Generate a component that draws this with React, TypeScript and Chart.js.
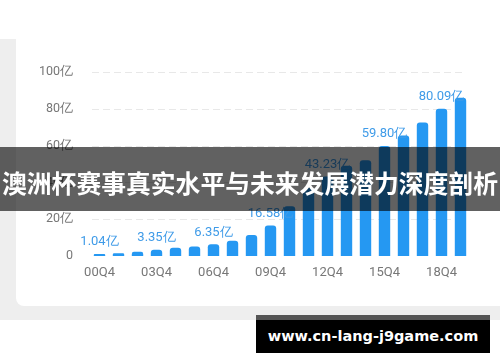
import React, { useEffect, useRef } from "react";
import { Chart, registerables } from "chart.js";

Chart.register(...registerables);

const categories = [
  "00Q4", "01Q4", "02Q4", "03Q4", "04Q4", "05Q4", "06Q4", "07Q4", "08Q4", "09Q4",
  "10Q4", "11Q4", "12Q4", "13Q4", "14Q4", "15Q4", "16Q4", "17Q4", "18Q4", "19Q4",
];
const values = [
  1.04, 1.5, 2.3, 3.35, 4.5, 5.1, 6.35, 8.3, 11.4, 16.58,
  27, 37, 43.23, 49, 52, 59.8, 65.5, 72.5, 80.09, 86,
];
const labeledCategories = ["00Q4", "03Q4", "06Q4", "09Q4", "12Q4", "15Q4", "18Q4"];
const shownXTicks = ["00Q4", "03Q4", "06Q4", "09Q4", "12Q4", "15Q4", "18Q4"];
const yTickValues = [0, 20, 40, 60, 80, 100];
const yTickLabels = ["0", "20亿", "40亿", "60亿", "80亿", "100亿"];
const unit = "亿";
const title = "澳洲杯赛事真实水平与未来发展潜力深度剖析";
const watermark = "www.cn-lang-j9game.com";

const dashedGridPlugin = {
  id: "dashedGrid",
  beforeDatasetsDraw(chart: any) {
    const y = chart.scales.y;
    const area = chart.chartArea;
    const ctx = chart.ctx;
    ctx.save();
    ctx.strokeStyle = "#e8e8e8";
    ctx.lineWidth = 1;
    ctx.setLineDash([7, 4]);
    yTickValues.forEach((v) => {
      if (v === 0) return;
      const py = Math.round(y.getPixelForValue(v)) + 0.5;
      ctx.beginPath();
      ctx.moveTo(area.left + 2, py);
      ctx.lineTo(area.right - 5, py);
      ctx.stroke();
    });
    ctx.restore();
  },
};

const valueLabelPlugin = {
  id: "valueLabels",
  afterDatasetsDraw(chart: any) {
    const meta = chart.getDatasetMeta(0);
    const ctx = chart.ctx;
    ctx.save();
    ctx.font = "13px Roboto";
    ctx.fillStyle = "#3f9be8";
    ctx.textAlign = "center";
    ctx.textBaseline = "middle";
    categories.forEach((c, i) => {
      if (!labeledCategories.includes(c)) return;
      const el = meta.data[i];
      ctx.fillText(values[i].toFixed(2) + unit, el.x, el.y - 12);
    });
    ctx.restore();
  },
};

export default function App() {
  const ref = useRef<HTMLCanvasElement | null>(null);
  useEffect(() => {
    if (!ref.current) return;
    const chart = new Chart(ref.current, {
      type: "bar",
      data: {
        labels: categories,
        datasets: [
          {
            data: values,
            backgroundColor: "#2598f2",
            borderRadius: 3,
            barPercentage: 0.6,
            categoryPercentage: 1,
          },
        ],
      },
      options: {
        responsive: false,
        animation: false,
        devicePixelRatio: 1,
        layout: { padding: { top: 33, right: 30, bottom: 0, left: 0 } },
        plugins: { legend: { display: false }, tooltip: { enabled: false } },
        scales: {
          x: {
            grid: { display: false, drawTicks: false },
            border: { display: false },
            ticks: {
              autoSkip: false,
              maxRotation: 0,
              padding: 9,
              color: "#777777",
              font: { family: "Roboto", size: 13 },
              callback: (_v: any, i: number) =>
                shownXTicks.includes(categories[i]) ? categories[i] : "",
            },
            afterFit: (s: any) => {
              s.height = 50;
            },
          },
          y: {
            min: 0,
            max: 100,
            afterBuildTicks: (s: any) => {
              s.ticks = yTickValues.map((v) => ({ value: v }));
            },
            grid: { display: false, drawTicks: false },
            border: { display: false },
            ticks: {
              padding: 17,
              color: "#777777",
              font: { family: "Roboto", size: 12.5 },
              callback: (v: any) => yTickLabels[yTickValues.indexOf(v)],
            },
            afterFit: (s: any) => {
              s.width = 74;
            },
          },
        },
      },
      plugins: [dashedGridPlugin, valueLabelPlugin],
    });
    return () => chart.destroy();
  }, []);

  return (
    <div
      style={{
        position: "fixed",
        left: 0,
        top: 0,
        width: 500,
        height: 362,
        background: "#ffffff",
        overflow: "hidden",
      }}
    >
      <div style={{ position: "absolute", left: 0, top: 39, width: 500, height: 281, background: "#eeeeee" }} />
      <div
        style={{
          position: "absolute",
          left: 16,
          top: 30,
          width: 500,
          height: 276,
          background: "#ffffff",
          borderBottomLeftRadius: 8,
        }}
      />
      <canvas
        ref={ref}
        width={484}
        height={267}
        style={{ position: "absolute", left: 16, top: 39, width: 484, height: 267 }}
      />
      <div
        style={{
          position: "absolute",
          left: 0,
          top: 147,
          width: 500,
          height: 64,
          background: "rgba(0,0,0,0.62)",
        }}
      >
        <div
          style={{
            position: "absolute",
            left: 0,
            top: 20,
            width: 500,
            textAlign: "center",
            whiteSpace: "nowrap",
            color: "#ffffff",
            fontFamily: "'Noto Sans CJK SC'",
            fontWeight: 700,
            fontSize: 24.8,
            lineHeight: "30px",
          }}
        >
          {title}
        </div>
      </div>
      <div style={{ position: "absolute", left: 256, top: 315, width: 234, height: 5, background: "#555555" }} />
      <div
        style={{
          position: "absolute",
          left: 256,
          top: 320,
          width: 234,
          height: 33,
          background: "#000000",
          color: "#ffffff",
          fontFamily: "'DejaVu Sans'",
          fontWeight: 700,
          fontSize: 14.5,
          lineHeight: "33px",
          textAlign: "center",
          whiteSpace: "nowrap",
        }}
      >
        {watermark}
      </div>
    </div>
  );
}
